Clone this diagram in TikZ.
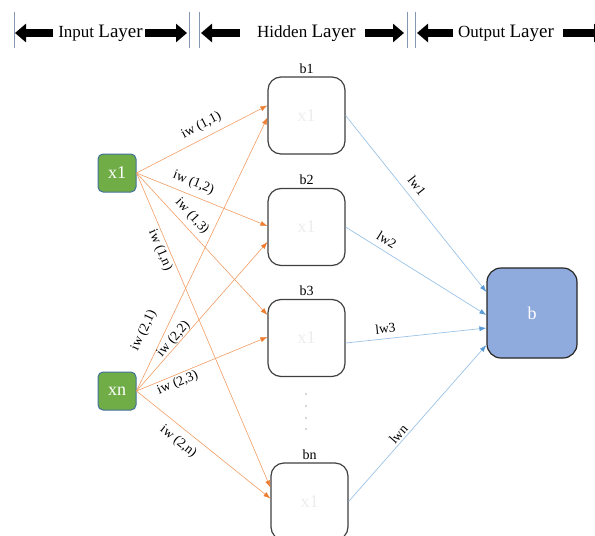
\documentclass[tikz,border=0pt]{standalone}
\usepackage{fontspec}
\setmainfont{Liberation Serif}
\usetikzlibrary{arrows.meta,positioning}

\definecolor{grn}{HTML}{70AD47}
\definecolor{gedge}{HTML}{41719C}
\definecolor{orng}{HTML}{ED7D31}
\definecolor{lblue}{HTML}{9DC3E6}
\definecolor{dblue}{HTML}{5B9BD5}
\definecolor{obox}{HTML}{8FAADC}
\definecolor{sepc}{HTML}{8497B0}

\begin{document}
\begin{tikzpicture}[x=1pt,y=-1pt,
    inp/.style={rectangle, rounded corners=5pt, draw=gedge, line width=1pt,
            fill=grn, minimum size=38pt, text=white,
            font=\fontsize{18}{18}\selectfont},
    hid/.style={rectangle, rounded corners=13pt, draw=black!75, line width=1.2pt,
            fill=white, minimum size=77pt, text=black!7,
            font=\fontsize{18}{18}\selectfont},
    outp/.style={rectangle, rounded corners=14pt, draw=black!85, line width=1.2pt,
            fill=obox, minimum size=90pt, text=white,
            font=\fontsize{18}{18}\selectfont},
    lbl/.style={font=\fontsize{14}{14}\selectfont, inner sep=1pt},
    hdrtxt/.style={font=\fontsize{17}{17}\selectfont, inner sep=0pt},
    hdr/.style={line width=8pt, -{Triangle[length=11pt,width=18pt]}},
    sep/.style={draw=sepc, line width=0.7pt},
    iw/.style={draw=orng!75, line width=0.6pt,
            -{Latex[length=7pt,width=5pt,color=orng]}},
    lw/.style={draw=lblue, line width=0.7pt,
            -{Latex[length=7pt,width=5pt,color=dblue]}},
    wt/.style={font=\fontsize{13.5}{14}\selectfont, sloped, inner sep=2pt}]

    \useasboundingbox (0,0) rectangle (595,536);

    % layer headings
    \foreach \x in {14,189,199,407,415}
        \draw[sep] (\x,12) -- (\x,48);
    \node[hdrtxt] (inl) at (100.5,33) {Input {\fontsize{19}{19}\selectfont Layer}};
    \node[hdrtxt] (hdl) at (306.5,33) {Hidden {\fontsize{19}{19}\selectfont Layer}};
    \node[hdrtxt] (otl) at (506,33) {Output {\fontsize{19}{19}\selectfont Layer}};
    \foreach \a/\b in {53/15,145/187,240/201,365/404,453/417,563/605}
        \draw[hdr] (\a,33) -- (\b,33);

    % inputs
    \node[inp] (x1) at (117,173) {x1};
    \node[inp] (xn) at (117,391) {xn};

    % hidden neurons
    \node[hid] (h1) at (306.5,115.5) {x1};
    \node[hid] (h2) at (306.5,227) {x1};
    \node[hid] (h3) at (306.5,338) {x1};
    \node[hid] (hn) at (309.5,501.5) {x1};
    \node[lbl,above=2pt of h1] (t1) {b1};
    \node[lbl,above=2pt of h2] (t2) {b2};
    \node[lbl,above=2pt of h3] (t3) {b3};
    \node[lbl,above=2pt of hn] (tn) {bn};
    \foreach \y in {394,406,418,429}
        \fill[black!70] (306,\y) circle (0.7pt);

    % output
    \node[outp] (ob) at (532,313) {b};

    % input weights
    \draw[iw] (x1.east) -- ([yshift=10pt]h1.west) node[wt,pos=0.54,above=4pt] {iw (1,1)};
    \draw[iw] (x1.east) -- ([yshift=1pt]h2.west) node[wt,pos=0.40,above=4pt] {iw (1,2)};
    \draw[iw] (x1.east) -- ([yshift=23pt]h3.west) node[wt,pos=0.36,above=3pt] {iw (1,3)};
    \draw[iw] (x1.east) -- ([yshift=14pt]hn.west) node[wt,pos=0.235,below=0pt] {iw (1,n)};
    \draw[iw] (xn.east) -- ([yshift=-2pt]h1.west) node[wt,pos=0.19,above=11pt] {iw (2,1)};
    \draw[iw] (xn.east) -- ([yshift=-15pt]h2.west) node[wt,pos=0.32,above=-2pt] {iw (2,2)};
    \draw[iw] (xn.east) -- ([yshift=1pt]h3.west) node[wt,pos=0.29,below=0pt] {iw (2,3)};
    \draw[iw] (xn.east) -- ([yshift=3pt]hn.west) node[wt,pos=0.375,below=5pt] {iw (2,n)};

    % layer weights
    \draw[lw] (h1.east) -- ([yshift=21pt]ob.west) node[wt,pos=0.44,above=5pt] {lw1};
    \draw[lw] (h2.east) -- ([yshift=-2pt]ob.west) node[wt,pos=0.25,above=4pt] {lw2};
    \draw[lw] ([yshift=-5pt]h3.east) -- ([yshift=-15pt]ob.west) node[wt,pos=0.29,above=3pt] {lw3};
    \draw[lw] (hn.east) -- ([yshift=-32pt]ob.west) node[wt,pos=0.40,above=0pt] {lwn};
\end{tikzpicture}
\end{document}
